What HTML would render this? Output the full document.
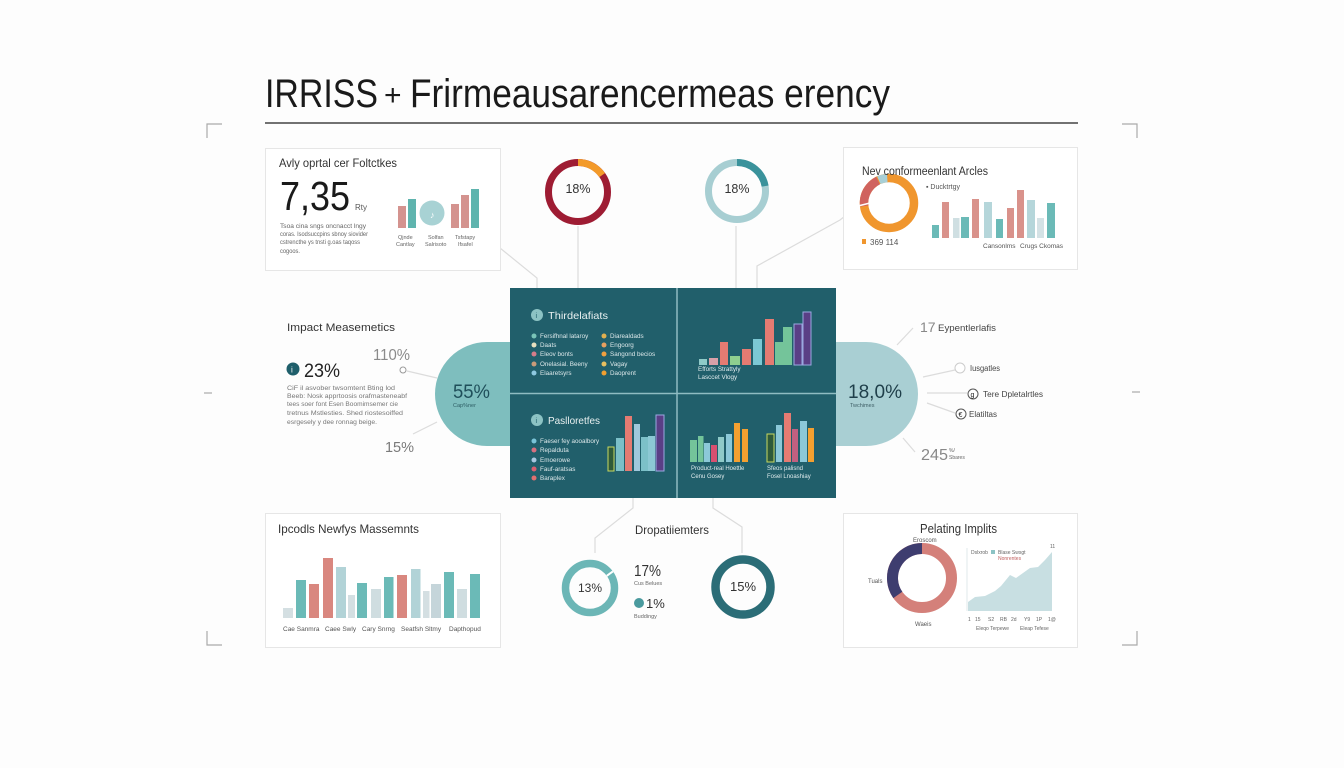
<!DOCTYPE html>
<html><head><meta charset="utf-8"><style>
html,body{margin:0;padding:0;background:#fdfdfd;}
svg{display:block;}
text{font-family:"Liberation Sans",sans-serif;}
</style></head><body>
<svg width="1344" height="768" viewBox="0 0 1344 768" xmlns="http://www.w3.org/2000/svg">
<rect width="1344" height="768" fill="#fdfdfd"/>

<!-- title -->
<text x="265" y="107" font-size="40" fill="#1a1a1a" textLength="113" lengthAdjust="spacingAndGlyphs">IRRISS</text>
<text x="384" y="105" font-size="30" fill="#1a1a1a">+</text>
<text x="410" y="107" font-size="40" fill="#1a1a1a" textLength="480" lengthAdjust="spacingAndGlyphs">Frirmeausarencermeas erency</text>
<line x1="265" y1="123" x2="1078" y2="123" stroke="#444" stroke-width="1.5"/>

<!-- corner brackets -->
<g stroke="#aaa" stroke-width="1.2" fill="none">
<path d="M222,124 H207 V138"/>
<path d="M222,645 H207 V631"/>
<path d="M1122,124 H1137 V138"/>
<path d="M1122,645 H1137 V631"/>
<line x1="204" y1="393" x2="212" y2="393"/>
<line x1="1132" y1="392" x2="1140" y2="392"/>
</g>

<!-- connector lines -->
<g stroke="#dcdcdc" stroke-width="1.2" fill="none">
<path d="M500,248 L537,278 L537,290"/>
<line x1="578" y1="226" x2="578" y2="290"/>
<line x1="736" y1="226" x2="736" y2="290"/>
<path d="M757,290 L757,266 L840,220 L858,206"/>
<path d="M633,498 L633,508 L595,538 L595,553"/>
<path d="M713,498 L713,508 L742,527 L742,553"/>
<line x1="407" y1="371" x2="437" y2="378"/>
<line x1="413" y1="434" x2="437" y2="422"/>
<line x1="897" y1="345" x2="913" y2="328"/>
<line x1="923" y1="377" x2="955" y2="370"/>
<line x1="927" y1="393" x2="967" y2="393"/>
<line x1="927" y1="403" x2="955" y2="413"/>
<line x1="903" y1="438" x2="915" y2="452"/>
</g>

<!-- top-left card -->
<rect x="265.5" y="148.5" width="235" height="122" fill="#fff" stroke="#e6e6e6"/>
<text x="279" y="167" font-size="12" fill="#333" textLength="118" lengthAdjust="spacingAndGlyphs">Avly oprtal cer Foltctkes</text>
<text x="280" y="210" font-size="41" fill="#1a1a1a" textLength="70" lengthAdjust="spacingAndGlyphs">7,35</text>
<text x="355" y="210" font-size="8" fill="#555">Rty</text>
<g font-size="6.3" fill="#666">
<text x="280" y="228" textLength="86" lengthAdjust="spacingAndGlyphs">Tsoa cina sngs oncnacct lngy</text>
<text x="280" y="236" textLength="88" lengthAdjust="spacingAndGlyphs">coras. Isodsuccpins sbnoy siovider</text>
<text x="280" y="244" textLength="80" lengthAdjust="spacingAndGlyphs">cstrencthe ys tnsti g.oas taqoss</text>
<text x="280" y="253" textLength="20" lengthAdjust="spacingAndGlyphs">cogoos.</text>
</g>
<rect x="398" y="206" width="8" height="22" fill="#d4938f"/>
<rect x="408" y="199" width="8" height="29" fill="#5fb4ae"/>
<circle cx="432" cy="213" r="12.5" fill="#a8d2d4"/>
<text x="430" y="218" font-size="9" fill="#fff">♪</text>
<rect x="451" y="204" width="8" height="24" fill="#d4938f"/>
<rect x="461" y="195" width="8" height="33" fill="#d4938f"/>
<rect x="471" y="189" width="8" height="39" fill="#5fb4ae"/>
<g font-size="5.5" fill="#666">
<text x="398" y="239">Qjnde</text><text x="396" y="246">Cantlay</text>
<text x="428" y="239">Solfan</text><text x="425" y="246">Salrisoto</text>
<text x="455" y="239">Tsfstapy</text><text x="458" y="246">Ifsafel</text>
</g>

<!-- top center donuts -->
<circle cx="578" cy="192" r="29.5" fill="none" stroke="#9e1c33" stroke-width="7"/>
<path d="M578,162.5 A29.5,29.5 0 0 1 602.16,175.08" fill="none" stroke="#f39a2a" stroke-width="7"/>
<text x="578" y="193" font-size="12.5" fill="#333" text-anchor="middle">18%</text>
<circle cx="737" cy="191" r="28.5" fill="none" stroke="#a7ced2" stroke-width="7"/>
<path d="M737,162.5 A28.5,28.5 0 0 1 765.07,186.05" fill="none" stroke="#3a929b" stroke-width="7"/>
<text x="737" y="193" font-size="12.5" fill="#333" text-anchor="middle">18%</text>

<!-- top-right card -->
<rect x="843.5" y="147.5" width="234" height="122" fill="#fff" stroke="#e6e6e6"/>
<circle cx="889" cy="203" r="25" fill="none" stroke="#f0962e" stroke-width="8.5"/>
<path d="M864.19,206.05 A25,25 0 0 1 878.04,180.53" fill="none" stroke="#d0635e" stroke-width="8.5"/>
<path d="M878.83,180.16 A25,25 0 0 1 887.26,178.06" fill="none" stroke="#a8cfd6" stroke-width="8.5"/>
<line x1="858" y1="206" x2="870" y2="203" stroke="#fff" stroke-width="1.5"/>
<text x="862" y="175" font-size="11.5" fill="#333" textLength="126" lengthAdjust="spacingAndGlyphs">Nev conformeenlant Arcles</text>
<rect x="862" y="239" width="4" height="5" fill="#f0962e"/>
<text x="870" y="245" font-size="8" fill="#555">369 114</text>
<text x="926" y="189" font-size="7" fill="#555">▪ Ducktrtgy</text>
<rect x="932" y="225" width="7" height="13" fill="#6bbab7"/>
<rect x="942" y="202" width="7" height="36" fill="#d9928b"/>
<rect x="953" y="218" width="6.5" height="20" fill="#cfdfe2"/>
<rect x="961" y="217" width="8" height="21" fill="#6bbab7"/>
<rect x="972" y="199" width="7" height="39" fill="#d9928b"/>
<rect x="984" y="202" width="8" height="36" fill="#b5d6da"/>
<rect x="996" y="219" width="7" height="19" fill="#6bbab7"/>
<rect x="1007" y="208" width="7" height="30" fill="#d9928b"/>
<rect x="1017" y="190" width="7" height="48" fill="#d9928b"/>
<rect x="1027" y="200" width="8" height="38" fill="#b5d6da"/>
<rect x="1037" y="218" width="7" height="20" fill="#d4e2e5"/>
<rect x="1047" y="203" width="8" height="35" fill="#6bbab7"/>
<text x="983" y="248" font-size="6.5" fill="#555">Cansonlms</text>
<text x="1020" y="248" font-size="6.5" fill="#555">Crugs Ckomas</text>

<!-- side shapes -->
<path d="M512,342 H487 A52,52 0 0 0 487,446 H512 Z" fill="#7ebebe"/>
<text x="453" y="398" font-size="19" fill="#1f4f5a" textLength="37" lengthAdjust="spacingAndGlyphs">55%</text>
<text x="453" y="407" font-size="5.5" fill="#2f5f66">Cap%ner</text>
<path d="M834,342 H866 A52,52 0 0 1 866,446 H834 Z" fill="#a9cfd3"/>
<text x="848" y="398" font-size="19" fill="#1f3f4a" textLength="54" lengthAdjust="spacingAndGlyphs">18,0%</text>
<text x="850" y="407" font-size="5.5" fill="#3f5f66">Twchimes</text>

<!-- central panel -->
<rect x="510" y="288" width="326" height="210" fill="#215f6b"/>
<line x1="677" y1="288" x2="677" y2="498" stroke="#8fbcc2" stroke-width="1.5"/>
<line x1="510" y1="393.5" x2="836" y2="393.5" stroke="#8fbcc2" stroke-width="1.5"/>

<!-- TL quadrant -->
<circle cx="537" cy="315" r="6" fill="#8cc3c4"/>
<text x="535.5" y="318" font-size="7" fill="#215f6b">i</text>
<text x="548" y="319" font-size="10.5" fill="#e8f0f0" textLength="60" lengthAdjust="spacingAndGlyphs">Thirdelafiats</text>
<g font-size="6.3" fill="#dce8ea">
<circle cx="534" cy="336" r="2.5" fill="#7ac4b8"/><text x="540" y="338">Fersifhnal lataroy</text>
<circle cx="534" cy="345" r="2.5" fill="#e8e0c0"/><text x="540" y="347">Daats</text>
<circle cx="534" cy="354" r="2.5" fill="#d67d8a"/><text x="540" y="356">Eleov bonts</text>
<circle cx="534" cy="364" r="2.5" fill="#c99b7a"/><text x="540" y="366">Onelasial. Beeny</text>
<circle cx="534" cy="373" r="2.5" fill="#8ec8e0"/><text x="540" y="375">Elaaretsyrs</text>
<circle cx="604" cy="336" r="2.5" fill="#e0b050"/><text x="610" y="338">Diarealdads</text>
<circle cx="604" cy="345" r="2.5" fill="#e8a060"/><text x="610" y="347">Engoorg</text>
<circle cx="604" cy="354" r="2.5" fill="#f0a040"/><text x="610" y="356">Sangond becios</text>
<circle cx="604" cy="364" r="2.5" fill="#e8c060"/><text x="610" y="366">Vagay</text>
<circle cx="604" cy="373" r="2.5" fill="#f0a030"/><text x="610" y="375">Daoprent</text>
</g>

<!-- TR quadrant -->
<g>
<rect x="699" y="359" width="8" height="6" fill="#8fcac8"/>
<rect x="709" y="358" width="9" height="7" fill="#d8a0a8"/>
<rect x="720" y="342" width="8" height="23" fill="#e57b72"/>
<rect x="730" y="356" width="10" height="9" fill="#8fcf8f"/>
<rect x="742" y="349" width="9" height="16" fill="#e57b72"/>
<rect x="753" y="339" width="9" height="26" fill="#7cc8d4"/>
<rect x="765" y="319" width="9" height="46" fill="#e57b72"/>
<rect x="775" y="342" width="8" height="23" fill="#74c49a"/>
<rect x="783" y="327" width="9" height="38" fill="#74c49a"/>
<rect x="794" y="324" width="8" height="41" fill="#5a3f86" stroke="#9aa8e0" stroke-width="1"/>
<rect x="803" y="312" width="8" height="53" fill="#5a3f86" stroke="#9aa8e0" stroke-width="1"/>
</g>
<text x="698" y="371" font-size="6.3" fill="#e0ecee">Efforts Strattyly</text>
<text x="698" y="379" font-size="6.3" fill="#e0ecee">Lasccet Vlogy</text>

<!-- BL quadrant -->
<circle cx="537" cy="420" r="6" fill="#8cc3c4"/>
<text x="535.5" y="423" font-size="7" fill="#215f6b">i</text>
<text x="548" y="424" font-size="10.5" fill="#e8f0f0" textLength="52" lengthAdjust="spacingAndGlyphs">Paslloretfes</text>
<g font-size="6.3" fill="#dce8ea">
<circle cx="534" cy="441" r="2.5" fill="#7ac4d8"/><text x="540" y="443">Faeser fey aooalbory</text>
<circle cx="534" cy="450" r="2.5" fill="#d87080"/><text x="540" y="452">Repalduta</text>
<circle cx="534" cy="460" r="2.5" fill="#a8c8e0"/><text x="540" y="462">Emoerowe</text>
<circle cx="534" cy="469" r="2.5" fill="#d86070"/><text x="540" y="471">Fauf-aratsas</text>
<circle cx="534" cy="478" r="2.5" fill="#e07070"/><text x="540" y="480">Baraplex</text>
</g>
<rect x="608" y="447" width="6" height="24" fill="#2f5a3a" stroke="#c8d860" stroke-width="1"/>
<rect x="616" y="438" width="8" height="33" fill="#7cc0c8"/>
<rect x="625" y="416" width="7" height="55" fill="#e57b72"/>
<rect x="634" y="424" width="6" height="47" fill="#a0c8dc"/>
<rect x="641" y="437" width="7" height="34" fill="#7cc0c8"/>
<rect x="648" y="436" width="7" height="35" fill="#8cc8d4"/>
<rect x="656" y="415" width="8" height="56" fill="#5a3f86" stroke="#9aa8e0" stroke-width="1"/>

<!-- BR quadrant -->
<rect x="690" y="440" width="7" height="22" fill="#74c49a"/>
<rect x="698" y="436" width="5.5" height="26" fill="#74c49a"/>
<rect x="704" y="443" width="6" height="19" fill="#8cc8d8"/>
<rect x="711" y="445" width="6" height="17" fill="#d85070"/>
<rect x="718" y="437" width="6" height="25" fill="#8fcac8"/>
<rect x="726" y="434" width="6" height="28" fill="#8cc8d8"/>
<rect x="734" y="423" width="6" height="39" fill="#f4a030"/>
<rect x="742" y="429" width="6" height="33" fill="#f4a030"/>
<text x="691" y="470" font-size="6" fill="#e0ecee">Product-real Hoettle</text>
<text x="691" y="478" font-size="6" fill="#e0ecee">Cenu Gosey</text>
<rect x="767" y="434" width="7" height="28" fill="#2f5a3a" stroke="#c8d860" stroke-width="1"/>
<rect x="776" y="425" width="6" height="37" fill="#8cc8d8"/>
<rect x="784" y="413" width="7" height="49" fill="#e57b72"/>
<rect x="792" y="429" width="6" height="33" fill="#c06080"/>
<rect x="800" y="421" width="7" height="41" fill="#8cc8d8"/>
<rect x="808" y="428" width="6" height="34" fill="#f4a030"/>
<text x="767" y="470" font-size="6" fill="#e0ecee">Sfeos palisnd</text>
<text x="767" y="478" font-size="6" fill="#e0ecee">Fosel Lnoashiay</text>

<!-- left text block -->
<text x="287" y="331" font-size="11" fill="#333" textLength="108" lengthAdjust="spacingAndGlyphs">Impact Measemetics</text>
<text x="373" y="360" font-size="16" fill="#8a8a8a" textLength="37" lengthAdjust="spacingAndGlyphs">110%</text>
<circle cx="403" cy="370" r="3" fill="#fff" stroke="#999"/>
<circle cx="293" cy="369" r="6.5" fill="#1f5f6b"/>
<text x="291" y="372.5" font-size="8" fill="#fff">i</text>
<text x="304" y="377" font-size="19" fill="#222" textLength="36" lengthAdjust="spacingAndGlyphs">23%</text>
<g font-size="6.3" fill="#777">
<text x="287" y="390" textLength="108" lengthAdjust="spacingAndGlyphs">CiF il asvober twsomtent Bting lod</text>
<text x="287" y="398" textLength="120" lengthAdjust="spacingAndGlyphs">Beeb: Nosk apprtoosis orafmasteneabf</text>
<text x="287" y="406" textLength="111" lengthAdjust="spacingAndGlyphs">tees soer font Esen Boomimsemer cie</text>
<text x="287" y="415" textLength="116" lengthAdjust="spacingAndGlyphs">tretnus Mstlesties. Shed riostesoiffed</text>
<text x="287" y="424" textLength="90" lengthAdjust="spacingAndGlyphs">esrgesely y dee ronnag beige.</text>
</g>
<text x="385" y="452" font-size="15" fill="#7a7a7a" textLength="29" lengthAdjust="spacingAndGlyphs">15%</text>

<!-- right text block -->
<text x="920" y="332" font-size="14" fill="#888">17</text>
<text x="938" y="331" font-size="9.5" fill="#444" textLength="58" lengthAdjust="spacingAndGlyphs">Eypentlerlafis</text>
<circle cx="960" cy="368" r="5" fill="#fff" stroke="#ccc"/>
<text x="970" y="371" font-size="8" fill="#444" textLength="30" lengthAdjust="spacingAndGlyphs">Iusgatles</text>
<circle cx="973" cy="394" r="5" fill="#fff" stroke="#555"/>
<text x="970.5" y="397" font-size="7" fill="#222">g</text>
<text x="983" y="397" font-size="8.5" fill="#444" textLength="60" lengthAdjust="spacingAndGlyphs">Tere Dpletalrtles</text>
<circle cx="961" cy="414" r="5" fill="#fff" stroke="#555"/>
<text x="958.5" y="417" font-size="7" fill="#222">€</text>
<text x="969" y="417" font-size="8" fill="#444" textLength="28" lengthAdjust="spacingAndGlyphs">Elatiltas</text>
<text x="921" y="460" font-size="16" fill="#888" textLength="27" lengthAdjust="spacingAndGlyphs">245</text>
<text x="949" y="452" font-size="5" fill="#666">%/</text>
<text x="949" y="459" font-size="5" fill="#666">Sbares</text>

<!-- bottom-left card -->
<rect x="265.5" y="513.5" width="235" height="134" fill="#fff" stroke="#e6e6e6"/>
<text x="278" y="533" font-size="12" fill="#333" textLength="141" lengthAdjust="spacingAndGlyphs">Ipcodls Newfys Massemnts</text>
<g>
<rect x="283" y="608" width="10" height="10" fill="#d4dfe2"/>
<rect x="296" y="580" width="10" height="38" fill="#6bbab7"/>
<rect x="309" y="584" width="10" height="34" fill="#d9877f"/>
<rect x="323" y="558" width="10" height="60" fill="#d9877f"/>
<rect x="336" y="567" width="10" height="51" fill="#b2d3d7"/>
<rect x="348" y="595" width="7" height="23" fill="#d4dfe2"/>
<rect x="357" y="583" width="10" height="35" fill="#6bbab7"/>
<rect x="371" y="589" width="10" height="29" fill="#cfdde0"/>
<rect x="384" y="577" width="9.5" height="41" fill="#6bbab7"/>
<rect x="397" y="575" width="10" height="43" fill="#d9877f"/>
<rect x="411" y="569" width="9.5" height="49" fill="#b2d3d7"/>
<rect x="423" y="591" width="6.5" height="27" fill="#d4dfe2"/>
<rect x="431" y="584" width="10" height="34" fill="#c5d5da"/>
<rect x="444" y="572" width="10" height="46" fill="#6bbab7"/>
<rect x="457" y="589" width="10" height="29" fill="#cfdde0"/>
<rect x="470" y="574" width="10" height="44" fill="#6bbab7"/>
</g>
<g font-size="6.5" fill="#555">
<text x="283" y="631">Cae Sanmra</text>
<text x="325" y="631">Caee Swly</text>
<text x="362" y="631">Cary Snrng</text>
<text x="401" y="631">Seatfsh Sltmy</text>
<text x="449" y="631">Dapthopud</text>
</g>

<!-- bottom center -->
<text x="635" y="534" font-size="12" fill="#333" textLength="74" lengthAdjust="spacingAndGlyphs">Dropatiiemters</text>
<circle cx="590" cy="588" r="24.5" fill="none" stroke="#6cb6b6" stroke-width="7.5"/>
<line x1="606.79" y1="575.8" x2="612.85" y2="571.39" stroke="#fff" stroke-width="2"/>
<text x="590" y="592" font-size="12" fill="#333" text-anchor="middle">13%</text>
<text x="634" y="576" font-size="16" fill="#333" textLength="27" lengthAdjust="spacingAndGlyphs">17%</text>
<text x="634" y="585" font-size="5.5" fill="#666">Cus Belues</text>
<circle cx="639" cy="603" r="5" fill="#4a9a9e"/>
<text x="646" y="608" font-size="13" fill="#333">1%</text>
<text x="634" y="618" font-size="5.5" fill="#666">Buddingy</text>
<circle cx="743" cy="587" r="27.5" fill="none" stroke="#2b6d77" stroke-width="8.5"/>
<text x="743" y="591" font-size="13" fill="#333" text-anchor="middle">15%</text>

<!-- bottom-right card -->
<rect x="843.5" y="513.5" width="234" height="134" fill="#fff" stroke="#e6e6e6"/>
<text x="920" y="533" font-size="12.5" fill="#333" textLength="77" lengthAdjust="spacingAndGlyphs">Pelating Implits</text>
<circle cx="922" cy="578" r="29.5" fill="none" stroke="#d4807a" stroke-width="11"/>
<path d="M897.83,594.92 A29.5,29.5 0 0 1 922,548.5" fill="none" stroke="#3e3d6f" stroke-width="11"/>
<g font-size="6" fill="#555">
<text x="913" y="542">Eroscom</text>
<text x="868" y="583">Tuals</text>
<text x="915" y="626">Waeis</text>
</g>
<path d="M968,611 L968,602 L975,597 L985,596 L995,591 L1001,586 L1010,575 L1016,578 L1023,573 L1030,568 L1038,567 L1045,560 L1052,552 L1052,611 Z" fill="#c8dfe2"/>
<line x1="967" y1="548" x2="967" y2="611" stroke="#d8e4e6" stroke-width="0.8"/>
<g font-size="5" fill="#666">
<text x="971" y="554">Dslxrob</text>
<rect x="991" y="550" width="4" height="4" fill="#8cc3c4"/>
<text x="998" y="554">Blase Swsgt</text>
<text x="998" y="560" fill="#c06060">Nonrentes</text>
<text x="1050" y="548">11</text>
<text x="968" y="621">1</text><text x="975" y="621">15</text><text x="988" y="621">S2</text>
<text x="1000" y="621">RB</text><text x="1011" y="621">2d</text><text x="1024" y="621">Y9</text>
<text x="1036" y="621">1P</text><text x="1048" y="621">1@</text>
<text x="976" y="630">Eleqo Terpewe</text>
<text x="1020" y="630">Eleap Tefese</text>
</g>
</svg>
</body></html>
